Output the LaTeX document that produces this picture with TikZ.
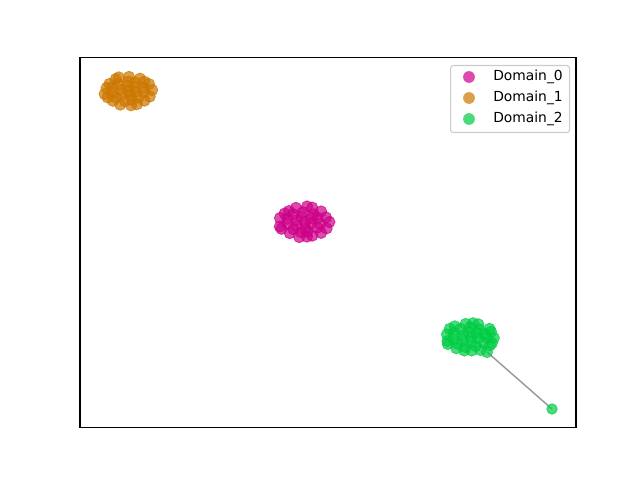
\documentclass[tikz,border=0pt]{standalone}
\usepackage{fontspec}
\setmainfont{DejaVu Sans}
\definecolor{dzero}{RGB}{204,0,136}
\definecolor{done}{RGB}{204,119,0}
\definecolor{dtwo}{RGB}{0,204,68}
\definecolor{edgegray}{RGB}{150,150,150}
\definecolor{legframe}{RGB}{204,204,204}
\tikzset{
  ptzero/.style={fill=dzero, draw=dzero, opacity=0.7, line width=0.6pt},
  ptone/.style={fill=done, draw=done, opacity=0.7, line width=0.6pt},
  pttwo/.style={fill=dtwo, draw=dtwo, opacity=0.7, line width=0.6pt},
  edgeline/.style={draw=edgegray, line width=1pt},
  legmark/.style={circle, inner sep=0pt, minimum size=8.5pt, fill opacity=0.7},
  legtext/.style={anchor=west, inner sep=0pt, font=\fontsize{10pt}{12pt}\selectfont},
}
\newcommand\drawcluster[5]{%
  \foreach \rf/\nn/\off in {0/1/0, 0.36/6/20, 0.69/11/7, 1/17/0} {
    \foreach \k in {1,...,\nn} {
      \pgfmathsetmacro\rr{\rf+0.06*rand}
      \pgfmathsetmacro\tt{360*\k/\nn+\off+7*rand}
      \path[#5] ({#1+#3*\rr*cos(\tt)},{#2+#4*\rr*sin(\tt)}) circle[radius=4.1pt];
    }
  }
}
\begin{document}
\begin{tikzpicture}[x=0.01in, y=-0.01in]
\useasboundingbox (0,0) rectangle (640,480);
\pgfmathsetseed{5}
% edge from cluster 2 to outlier
\coordinate (e1) at (487,352);
\coordinate (out) at (552,409);
\draw[edgeline] (e1) -- (out);
\drawcluster{128}{91}{23}{14}{ptone}
\drawcluster{304}{222}{24}{15}{ptzero}
\drawcluster{470}{337}{24}{14}{pttwo}
\path[pttwo] (e1) circle[radius=4.1pt];
\path[pttwo] (out) circle[radius=3.8pt];
% axes frame
\draw[line width=0.8pt] (80,57.6) rectangle (576,427.2);
% legend
\node[draw=legframe, fill=white, fill opacity=0.8, text opacity=1, rounded corners=2pt, line width=0.8pt,
      minimum width=119*0.01in, minimum height=67*0.01in, anchor=north west, inner sep=0pt] (leg) at (450,65) {};
\node[legmark, fill=dzero] (m0) at (469,77) {};
\node[legmark, fill=done] (m1) at (469,98) {};
\node[legmark, fill=dtwo] (m2) at (469,119) {};
\node[legtext] (t0) at (493,77) {Domain\_0};
\node[legtext] (t1) at (493,98) {Domain\_1};
\node[legtext] (t2) at (493,119) {Domain\_2};
\end{tikzpicture}
\end{document}
